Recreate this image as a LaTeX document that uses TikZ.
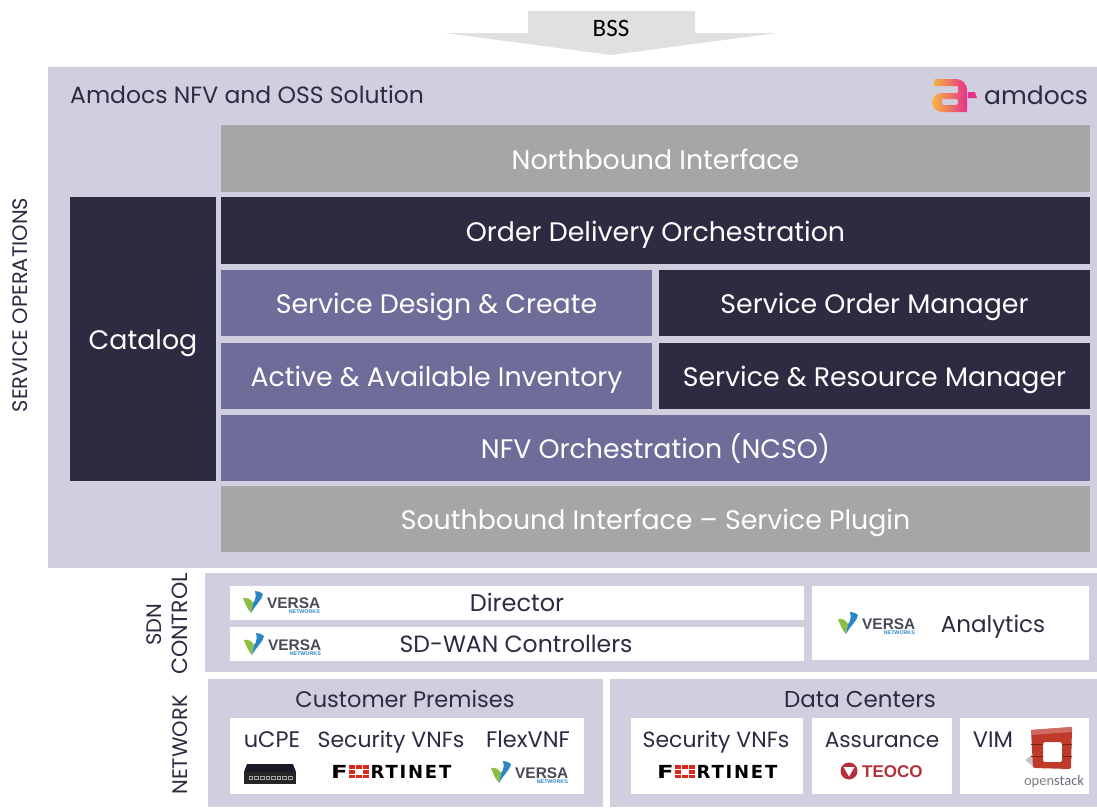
\documentclass[tikz,border=0pt]{standalone}
\usepackage{fontspec}
\setmainfont{Poppins}
\newfontfamily\narrowfont{Carlito}
\newfontfamily\logofont{Liberation Sans}
\newfontfamily\fortifont[LetterSpace=10]{DejaVu Sans}
\definecolor{panelc}{HTML}{CFCFDF}
\definecolor{darkc}{HTML}{2D2B42}
\definecolor{purplec}{HTML}{6F6C99}
\definecolor{grayc}{HTML}{A6A6A6}
\definecolor{arrowc}{HTML}{E0E1DF}
\definecolor{versablue}{HTML}{2B86C8}
\definecolor{versagreen}{HTML}{8DBE45}
\definecolor{versagray}{HTML}{4A4A55}
\definecolor{fortired}{HTML}{DA291C}
\definecolor{teocored}{HTML}{B5313A}
\definecolor{stackred}{HTML}{C03A2B}
\definecolor{amyellow}{HTML}{F6B73C}
\definecolor{ampink}{HTML}{E6318C}
\tikzset{
    x=1pt, y=-1pt,
    textmid/.style={text height=#1,text depth=0pt},
    panel/.style={rectangle,inner sep=0pt,fill=panelc},
    whitebox/.style={rectangle,inner sep=0pt,fill=white},
    darkbox/.style={rectangle,inner sep=0pt,fill=darkc,text=white,textmid=21pt,font=\fontsize{26.8}{28}\selectfont},
    purplebox/.style={rectangle,inner sep=0pt,fill=purplec,text=white,textmid=21pt,font=\fontsize{26.8}{28}\selectfont},
    graybox/.style={rectangle,inner sep=0pt,fill=grayc,text=white,textmid=21pt,font=\fontsize{26.8}{28}\selectfont},
    wide/.style={minimum width=869pt,minimum height=67pt},
    half/.style={minimum width=431pt,minimum height=66pt},
    label/.style={inner sep=0pt,text=darkc,textmid=16pt,font=\fontsize{22.5}{26}\selectfont},
    sidelabel/.style={inner sep=0pt,text=darkc,textmid=14.7pt,rotate=90,font=\fontsize{21}{22}\selectfont},
    pics/versalogo/.style={code={
        \fill[versagreen] (0,7) .. controls (4,6) and (8,8) .. (10,12) -- (8,22) .. controls (5,19) and (2,13) .. (0,7) -- cycle;
        \fill[versablue] (12,0) .. controls (15,0) and (18,1) .. (20,3) .. controls (19,9) and (13,13) .. (8,22) -- (10,12) .. controls (13,9) and (13,4) .. (12,0) -- cycle;
        \node[inner sep=0pt,anchor=west,text=versagray,textmid=10.8pt,font=\logofont\bfseries\fontsize{15.4}{16}\selectfont] (-text) at (24,12) {VERSA};
        \node[inner sep=0pt,anchor=east,text=versablue,textmid=3.8pt,font=\logofont\bfseries\fontsize{5.3}{6}\selectfont] (-sub) at (77,21) {NETWORKS};
    }},
    pics/fortilogo/.style={code={
        \node[inner sep=0pt,anchor=west,text=black,textmid=13pt,font=\fortifont\bfseries\fontsize{18}{19}\selectfont] (-f) at (0,6.5) {\scalebox{1.35}[1]{F}};
        \foreach \ix/\iy in {0/0,1/0,2/0,0/1,2/1,0/2,1/2,2/2}
            \fill[fortired] (18+7*\ix,0.2+4.7*\iy) rectangle +(6,3.7);
        \node[inner sep=0pt,anchor=west,text=black,textmid=13pt,font=\fortifont\bfseries\fontsize{18}{19}\selectfont] (-rest) at (39.5,6.5) {RTINET};
    }},
}
\begin{document}
\begin{tikzpicture}
\useasboundingbox (0,0) rectangle (1097,807);
% top arrow
\fill[arrowc] (528,11) -- (695,11) -- (695,33) -- (777,33) -- (611,55) -- (445,33) -- (528,33) -- cycle;
\node[inner sep=0pt,text=black,textmid=16pt,font=\narrowfont\fontsize{25}{28}\selectfont] (bss) at (611,28) {BSS};
% solution panel
\node[panel,minimum width=1049pt,minimum height=501pt] (solution) at (572.5,317.5) {};
\node[label,anchor=west,textmid=16.5pt,font=\fontsize{23.5}{26}\selectfont] (title) at (70,95) {Amdocs NFV and OSS Solution};
\node[graybox,wide] (north) at (655.5,158.5) {Northbound Interface};
\node[darkbox,minimum width=146pt,minimum height=284pt] (catalog) at (143,339) {Catalog};
\node[darkbox,wide] (order) at (655.5,230.5) {Order Delivery Orchestration};
\node[purplebox,half] (design) at (436.5,303) {Service Design \& Create};
\node[darkbox,half] (manager) at (874.5,303) {Service Order Manager};
\node[purplebox,half] (inventory) at (436.5,376) {Active \& Available Inventory};
\node[darkbox,half] (resource) at (874.5,376) {Service \& Resource Manager};
\node[purplebox,wide,minimum height=66pt] (nfv) at (655.5,448) {NFV Orchestration (NCSO)};
\node[graybox,wide,minimum height=66pt] (south) at (655.5,519) {Southbound Interface -- Service Plugin};
\node[sidelabel] (ops) at (20,305) {SERVICE OPERATIONS};
% logo
\shade[left color=amyellow,right color=ampink,even odd rule]
    (935,79) [rounded corners=11pt] -- (967,79) [rounded corners=1pt] -- (967,112) [rounded corners=10pt] -- (932,112) -- (932,93) [rounded corners=1pt] -- (958,93) -- (958,86) -- (933,86) [sharp corners] -- cycle
    (942,99) [rounded corners=2pt] -- (942,105) -- (958,105) -- (958,99) [sharp corners] -- cycle;
\fill[ampink] (968,92) -- (975,92) -- (977,98) -- (968,98) -- cycle;
\node[inner sep=0pt,anchor=west,text=darkc,textmid=18pt,font=\fontsize{25}{28}\selectfont] (amdocs) at (984,95) {amdocs};
% sdn control
\node[panel,minimum width=892pt,minimum height=99pt] (sdn) at (651,622.5) {};
\node[sidelabel] (sdnlabel) at (154,625) {SDN};
\node[sidelabel,textmid=15.4pt,font=\fontsize{22}{24}\selectfont] (controllabel) at (180,624) {CONTROL};
\node[whitebox,minimum width=574pt,minimum height=34pt] (director) at (517,603) {};
\node[whitebox,minimum width=574pt,minimum height=34pt] (wan) at (517,644) {};
\node[whitebox,minimum width=277pt,minimum height=74pt] (analytics) at (950.5,623) {};
\node[label,font=\fontsize{24}{26}\selectfont] (directorlabel) at (517,603) {Director};
\node[label,font=\fontsize{23.5}{26}\selectfont] (wanlabel) at (516,644) {SD-WAN Controllers};
\node[label,font=\fontsize{23}{26}\selectfont] (analyticslabel) at (993,624) {Analytics};
\pic (versaa) at (243,591) {versalogo};
\pic (versab) at (244,633) {versalogo};
\pic (versac) at (838,612) {versalogo};
% network
\node[panel,minimum width=395pt,minimum height=128pt] (customer) at (405.5,743) {};
\node[panel,minimum width=487pt,minimum height=128pt] (data) at (853.5,743) {};
\node[sidelabel] (netlabel) at (180,745) {NETWORK};
\node[label] (customerlabel) at (405,699) {Customer Premises};
\node[label,font=\fontsize{23}{26}\selectfont] (datalabel) at (860,699) {Data Centers};
\node[whitebox,minimum width=354pt,minimum height=76pt] (premises) at (407,756) {};
\node[whitebox,minimum width=172pt,minimum height=76pt] (security) at (717,756) {};
\node[whitebox,minimum width=140pt,minimum height=76pt] (assurance) at (882,756) {};
\node[whitebox,minimum width=129pt,minimum height=76pt] (vim) at (1024.5,756) {};
\node[label] (ucpe) at (272,739) {uCPE};
\node[label,font=\fontsize{22}{26}\selectfont] (seca) at (391,739) {Security VNFs};
\node[label] (flex) at (528,739) {FlexVNF};
\node[label,font=\fontsize{22}{26}\selectfont] (secb) at (716,739) {Security VNFs};
\node[label,font=\fontsize{21.7}{26}\selectfont] (assure) at (882,739) {Assurance};
\node[label] (vimlabel) at (993,739) {VIM};
% device
\fill[darkc!60!black] (247,764) -- (293,764) -- (296,772) -- (244,772) -- cycle;
\fill[black!85] (244,772) rectangle (296,784);
\foreach \i in {0,...,7}
    \draw[gray!70,line width=.5pt] (249+5.6*\i,776) rectangle +(3.6,3.6);
\pic (fortia) at (331,765) {fortilogo};
\pic (fortib) at (657,765) {fortilogo};
\pic (versad) at (491,761) {versalogo};
% teoco
\fill[teocored] (849,771) circle (8.5);
\fill[white] (843.5,767) -- (854.5,767) -- (849,776.5) -- cycle;
\node[inner sep=0pt,anchor=west,text=teocored,textmid=12pt,font=\logofont\bfseries\fontsize{17}{22}\selectfont] (teoco) at (862,771) {TEOCO};
% openstack
\fill[gray!45] (1025,760) -- (1032,755) -- (1034,767) -- cycle;
\fill[stackred,even odd rule,rounded corners=1.5pt] (1031,730) -- (1072,727) -- (1071,769) -- (1033,768) -- cycle
    (1043,742) rectangle (1062,762);
\fill[stackred!75!white] (1031,730) -- (1072,727) -- (1072,732) -- (1031,735) -- cycle;
\foreach \iy in {744,756} {
    \draw[stackred!60!black,line width=.7pt] (1031,\iy) -- (1043,\iy);
    \draw[stackred!60!black,line width=.7pt] (1062,\iy) -- (1072,\iy);
}
\node[inner sep=0pt,text=gray,textmid=10pt,font=\narrowfont\fontsize{14.5}{16}\selectfont] (stack) at (1054,780) {open\textcolor{darkc!70}{stack}};
\end{tikzpicture}
\end{document}
